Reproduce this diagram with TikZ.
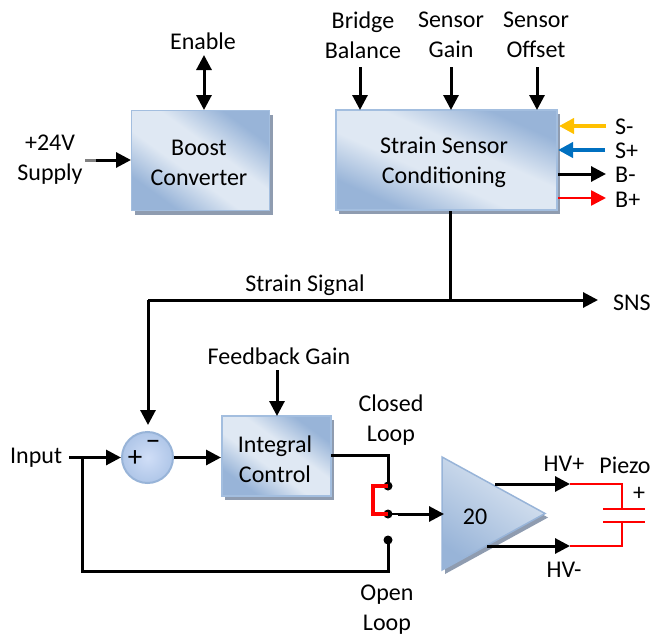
\documentclass[tikz,border=0pt]{standalone}
\usepackage{fontspec}
\setmainfont{Carlito}
\usetikzlibrary{arrows.meta,shadows,shapes.geometric}
\definecolor{blkdark}{HTML}{98B4D8}
\definecolor{blklight}{HTML}{DFE8F3}
\definecolor{blkedge}{HTML}{A3BEDF}
\definecolor{blkshadow}{HTML}{8F9CB0}
\definecolor{sumcore}{HTML}{D0DEF7}
\definecolor{sumrim}{HTML}{AFC6E8}
\definecolor{wyellow}{HTML}{FFC000}
\definecolor{wblue}{HTML}{0070C0}
\definecolor{wred}{HTML}{FF0000}
\pgfdeclareverticalshading{blkshade}{100bp}{color(0bp)=(blkdark); color(27bp)=(blkdark); color(43bp)=(blklight); color(57bp)=(blklight); color(73bp)=(blkdark); color(100bp)=(blkdark)}
\tikzset{
  txt/.style={inner sep=0pt,align=center,yshift=-1pt,font=\fontsize{24}{30}\selectfont},
  lefttxt/.style={txt,anchor=west},
  blockbox/.style={draw=blkedge,line width=1.5pt,inner sep=0pt,
    shading=blkshade,
    copy shadow={shadow xshift=3pt,shadow yshift=-4pt,fill=blkshadow,draw=none}},
  sumcircle/.style={circle,draw=blkdark,line width=2pt,inner sep=0pt,minimum size=51pt,
    inner color=sumcore,outer color=sumrim},
  amptri/.style={isosceles triangle,isosceles triangle stretches,shape border rotate=0,
    draw=blkdark,line width=1.5pt,inner sep=0pt,minimum width=113pt,minimum height=103pt,
    top color=blklight,bottom color=blkdark,shading angle=-35,
    copy shadow={shadow xshift=3pt,shadow yshift=-4pt,fill=blkshadow,draw=none}},
  wire/.style={line width=3pt,draw=black},
  arrowwire/.style={wire,-{Triangle[length=15pt,width=15pt]}},
  bothwire/.style={wire,{Triangle[length=15pt,width=15pt]}-{Triangle[length=15pt,width=15pt]}},
  smallarrow/.style={-{Triangle[length=15pt,width=15pt]}},
  pinwire/.style={line width=2.6pt,draw=wred},
  contact/.style={circle,fill=black,inner sep=0pt,minimum size=9pt},
}
\begin{document}
\begin{tikzpicture}[x=1pt,y=-1pt]
\useasboundingbox (0,0) rectangle (651,637);
% blocks
\node[blockbox,shading angle=-36,minimum width=138pt,minimum height=100pt] (boost) at (200.5,160.5) {};
\node[blockbox,shading angle=-24,minimum width=221pt,minimum height=100pt] (strain) at (446.5,160) {};
\node[blockbox,shading angle=-36,minimum width=109pt,minimum height=80pt] (integ) at (276.5,456) {};
\node[sumcircle] (sum) at (147.5,457.5) {};
\node[amptri,anchor=apex] (amp) at (547,513.5) {};
% block texts
\node[txt] (boosttxt) at (199,162) {Boost\\Converter};
\node[txt] (straintxt) at (444,161) {Strain Sensor\\Conditioning};
\node[txt] (integtxt) at (275,458.5) {Integral\\Control};
\node[txt] (ampnum) at (475,516) {20};
\node[txt,font=\fontsize{29}{30}\selectfont] (plus) at (135,458) {+};
\node[txt,font=\fontsize{29}{30}\selectfont] (minus) at (153,444) {−};
% labels
\node[txt] (enable) at (203,40) {Enable};
\node[txt] (supply) at (50,159) {+24V\\Supply};
\node[txt] (bridge) at (363,34) {Bridge\\Balance};
\node[txt] (sgain) at (451,34) {Sensor\\Gain};
\node[txt] (soffset) at (536,34) {Sensor\\Offset};
\node[lefttxt] (sminus) at (615,126) {S-};
\node[lefttxt] (splus) at (615,150) {S+};
\node[lefttxt] (bminus) at (615,174) {B-};
\node[lefttxt] (bplus) at (615,199) {B+};
\node[txt] (ssignal) at (305,284) {Strain Signal};
\node[lefttxt] (sns) at (613,302) {SNS};
\node[txt] (fbgain) at (279,355) {Feedback Gain};
\node[txt] (closed) at (391,419) {Closed\\Loop};
\node[txt] (openl) at (387,609) {Open\\Loop};
\node[lefttxt] (input) at (10,457) {Input};
\node[txt] (hvp) at (564,463) {HV+};
\node[txt] (hvm) at (564,569) {HV-};
\node[txt] (piezo) at (625,464) {Piezo};
\node[txt] (pzplus) at (639,493) {+};
% switch contacts
\node[contact] (cclosed) at (388,486) {};
\node[contact] (ccommon) at (388,514) {};
\node[contact] (copen) at (388,540) {};
% free ends and corners
\coordinate (enableend) at (204,55);
\coordinate (boosttop) at (204,110);
\coordinate (supplyend) at (85,160);
\coordinate (supplymid) at (96,160);
\coordinate (boostin) at (131,160);
\coordinate (bridgeend) at (360,67);
\coordinate (bridgein) at (360,110);
\coordinate (gainend) at (451,67);
\coordinate (gainin) at (451,110);
\coordinate (offsetend) at (537,67);
\coordinate (offsetin) at (537,110);
\coordinate (sjunction) at (450,300);
\coordinate (strainout) at (450,211);
\coordinate (scorner) at (148,300);
\coordinate (sumtop) at (148,425);
\coordinate (snsend) at (598,300);
\coordinate (fbend) at (277,370);
\coordinate (fbin) at (277,416);
\coordinate (inputstart) at (69,457.5);
\coordinate (fbjoint) at (82,457.5);
\coordinate (fbdown) at (82,571);
\coordinate (fbright) at (388,571);
\coordinate (intin) at (221,457.5);
\coordinate (intout) at (331,455);
\coordinate (intright) at (388,455);
\coordinate (swl1) at (373,486);
\coordinate (swl2) at (373,514);
\coordinate (swout) at (398,514);
\coordinate (ampin) at (444,514);
\coordinate (hvpstart) at (495,484);
\coordinate (hvpend) at (570,484);
\coordinate (hvmstart) at (487,546);
\coordinate (hvmend) at (570,546);
\coordinate (pzc1) at (622,484);
\coordinate (pzt) at (622,509);
\coordinate (pzb) at (622,522);
\coordinate (pzc2) at (622,546);
\coordinate (ptl) at (603,509);
\coordinate (ptr) at (645,509);
\coordinate (pbl) at (603,522);
\coordinate (pbr) at (645,522);
\coordinate (smi) at (559,126);
\coordinate (smo) at (606,126);
\coordinate (spi) at (558,150);
\coordinate (spo) at (605,150);
\coordinate (bmi) at (558,174);
\coordinate (bmo) at (606,174);
\coordinate (bpi) at (558,198);
\coordinate (bpo) at (606,198);
% connectors
\draw[bothwire] (enableend) -- (boosttop);
\draw[line width=3pt,draw=gray] (supplyend) -- (supplymid);
\draw[arrowwire] (supplymid) -- (boostin);
\draw[arrowwire] (bridgeend) -- (bridgein);
\draw[arrowwire] (gainend) -- (gainin);
\draw[arrowwire] (offsetend) -- (offsetin);
\draw[line width=3.8pt,draw=wyellow,smallarrow] (smo) -- (smi);
\draw[line width=3.8pt,draw=wblue,smallarrow] (spo) -- (spi);
\draw[wire,smallarrow] (bmi) -- (bmo);
\draw[pinwire,smallarrow] (bpi) -- (bpo);
\draw[wire] (strainout) -- (sjunction);
\draw[arrowwire] (scorner) -- (sumtop);
\draw[arrowwire] (scorner) -- (snsend);
\draw[arrowwire] (fbend) -- (fbin);
\draw[arrowwire] (inputstart) -- (sum.west);
\draw[arrowwire] (sum.east) -- (intin);
\draw[wire] (fbjoint) -- (fbdown) -- (fbright) -- (copen.center);
\draw[wire] (intout) -- (intright) -- (cclosed.center);
\draw[line width=3.8pt,draw=wred,line join=miter] (cclosed.center) -- (swl1) -- (swl2) -- (ccommon.center);
\draw[arrowwire] (swout) -- (ampin);
\draw[line width=1.2pt,draw=black] (ccommon.center) -- (swout);
\draw[arrowwire] (hvpstart) -- (hvpend);
\draw[arrowwire] (hvmstart) -- (hvmend);
\draw[pinwire] (hvpend) -- (pzc1) -- (pzt);
\draw[pinwire] (hvmend) -- (pzc2) -- (pzb);
\draw[pinwire] (ptl) -- (ptr);
\draw[pinwire] (pbl) -- (pbr);
\end{tikzpicture}
\end{document}
